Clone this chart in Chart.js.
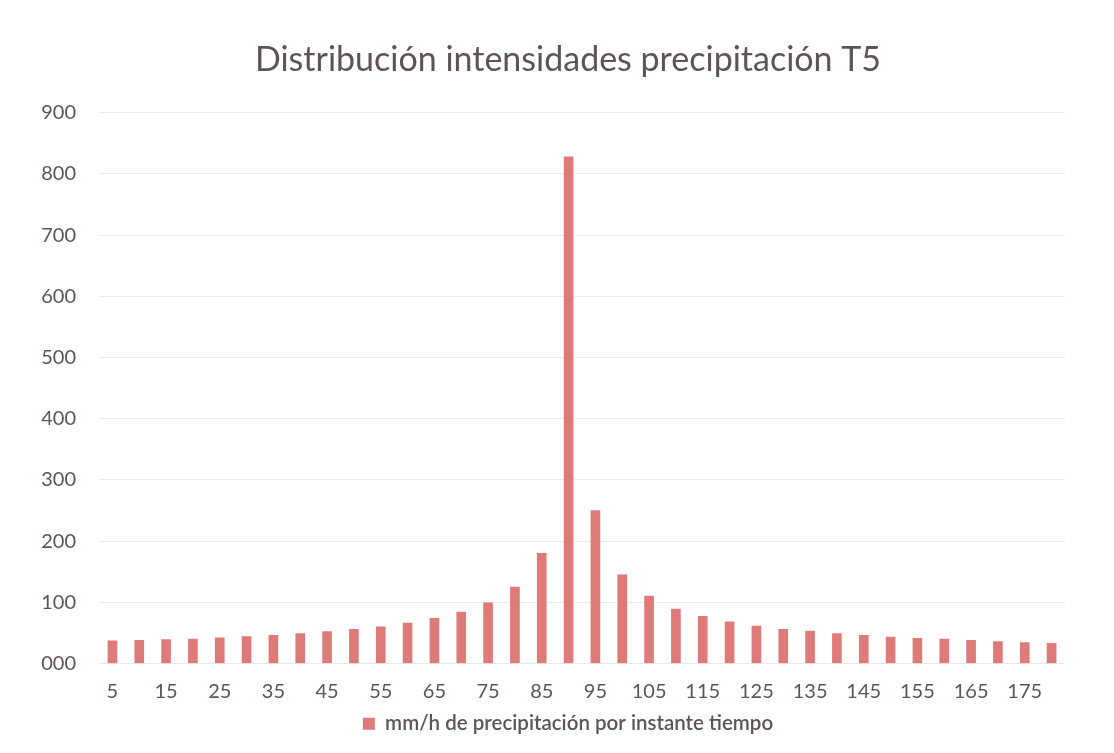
<!DOCTYPE html>
<html>
<head>
<meta charset="utf-8">
<script src="https://cdn.jsdelivr.net/npm/chart.js@4"></script>
<style>
  body { margin: 0; background: #ffffff; }
  #wrap { position: relative; width: 1114px; height: 753px; }
</style>
</head>
<body>
<div id="wrap"><canvas id="grafico" width="1114" height="753"></canvas></div>
<script>
const instantes = [5, 10, 15, 20, 25, 30, 35, 40, 45, 50, 55, 60, 65, 70, 75, 80, 85, 90,
                   95, 100, 105, 110, 115, 120, 125, 130, 135, 140, 145, 150, 155, 160, 165, 170, 175, 180]
const intensidad = [37, 38, 39, 40, 42, 44, 46, 49, 52, 56, 60, 66, 74, 84, 99, 125, 180, 828,
                    250, 145, 110, 89, 77, 68, 61, 56, 53, 49, 46, 43, 41, 40, 38, 36, 34, 33]
const marcasY = ["000", "100", "200", "300", "400", "500", "600", "700", "800", "900"]

const colorTexto = "#5e5358"
const fuente = "Lato, 'Open Sans', sans-serif"

// o eixo y fica estreito, então abre a área de recorte dos rótulos para a esquerda
const abrirEixo = {
    id: 'abrirEixo',
    afterLayout(chart) {
        chart.scales.y.left = 0
    }
}

function criarGraf() {
    const ctx = document.getElementById('grafico').getContext('2d')

    new Chart(ctx, {
        type: 'bar',
        data: {
            labels: instantes,
            datasets: [{
                label: "mm/h de precipitación por instante tiempo",
                data: intensidad,
                backgroundColor: "#de7b79",
                barThickness: 9
            }]
        },
        options: {
            responsive: false,
            animation: false,
            layout: { padding: { left: 71, right: 49, top: 10, bottom: 9 } },
            plugins: {
                title: {
                    display: true,
                    text: "Distribución intensidades precipitación T5",
                    color: colorTexto,
                    font: { family: fuente, size: 34, weight: 'normal' },
                    padding: { top: 30, bottom: 32 }
                },
                legend: {
                    position: 'bottom',
                    labels: {
                        color: colorTexto,
                        font: { family: fuente, size: 20.5, weight: '600' },
                        boxWidth: 12,
                        boxHeight: 12,
                        padding: 2
                    }
                },
                tooltip: { enabled: false }
            },
            scales: {
                x: {
                    grid: { display: false },
                    border: { display: false },
                    ticks: {
                        color: colorTexto,
                        font: { family: fuente, size: 20 },
                        maxRotation: 0,
                        autoSkip: false,
                        padding: 8,
                        callback: function (value, index) {
                            return index % 2 === 0 ? instantes[index] : ""
                        }
                    }
                },
                y: {
                    min: 0,
                    max: 900,
                    afterFit: function (escala) {
                        escala.width = 28
                    },
                    grid: { color: "#ebe8e8", lineWidth: 1, drawTicks: false },
                    border: { display: false },
                    ticks: {
                        stepSize: 100,
                        color: colorTexto,
                        font: { family: fuente, size: 20 },
                        padding: 23,
                        callback: function (value) {
                            return marcasY[Math.round(value / 100)]
                        }
                    }
                }
            }
        },
        plugins: [abrirEixo]
    })
}

criarGraf()
</script>
</body>
</html>
